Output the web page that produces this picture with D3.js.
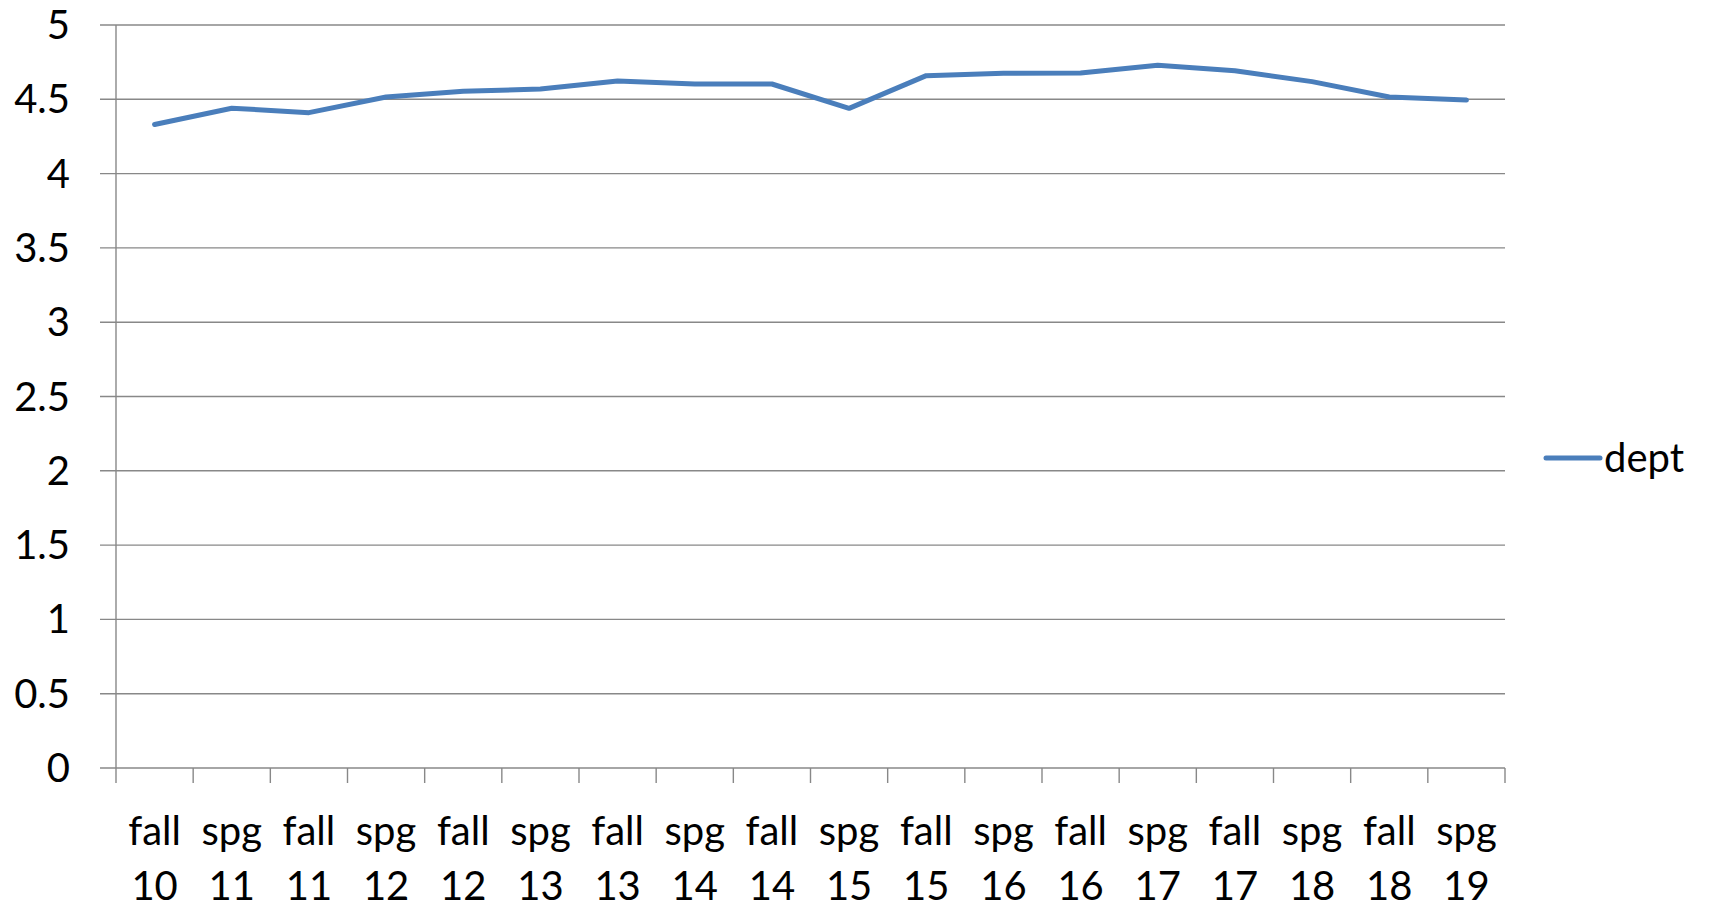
<!DOCTYPE html>
<html>
<head>
<meta charset="utf-8">
<script src="https://cdn.jsdelivr.net/npm/d3@7"></script>
<style>
  body { margin: 0; background: #fff; }
  text { font-family: Lato, "Open Sans", sans-serif; fill: #000; }
</style>
</head>
<body>
<svg id="chart" width="1715" height="908"></svg>
<script>
// categories, two-line labels
var terms = ["fall", "spg", "fall", "spg", "fall", "spg", "fall", "spg", "fall",
             "spg", "fall", "spg", "fall", "spg", "fall", "spg", "fall", "spg"];
var years = ["10", "11", "11", "12", "12", "13", "13", "14", "14",
             "15", "15", "16", "16", "17", "17", "18", "18", "19"];
var dept = [4.33, 4.44, 4.41, 4.515, 4.554, 4.569, 4.623, 4.603, 4.603,
            4.439, 4.659, 4.675, 4.677, 4.729, 4.692, 4.619, 4.515, 4.495];
var yTicks = [0, 0.5, 1, 1.5, 2, 2.5, 3, 3.5, 4, 4.5, 5];

var svg = d3.select("#chart");
// note: "top" is a reserved window prop, so use plot* names
var plotLeft = 116, plotRight = 1505, plotTop = 25, plotBottom = 768;
var gridColor = "#888888";

var cats = terms.map(function (d, i) { return i; });

var x = d3.scaleBand()
        .domain(cats)
        .range([plotLeft, plotRight]);

var y = d3.scaleLinear()
        .domain([0, 5])
        .range([plotBottom, plotTop]);

// horizontal gridlines (with left tick stubs)
svg.append("g")
        .selectAll("line")
        .data(yTicks)
        .enter()
        .append("line")
        .attr("x1", plotLeft - 16)
        .attr("x2", plotRight)
        .attr("y1", function (d) { return y(d); })
        .attr("y2", function (d) { return y(d); })
        .attr("stroke", gridColor)
        .attr("stroke-width", 1.4);

// y axis line
svg.append("line")
        .attr("x1", plotLeft).attr("x2", plotLeft)
        .attr("y1", plotTop).attr("y2", plotBottom + 15)
        .attr("stroke", gridColor)
        .attr("stroke-width", 1.4);

// y labels
svg.append("g")
        .selectAll("text")
        .data(yTicks)
        .enter()
        .append("text")
        .attr("x", 70)
        .attr("y", function (d) { return y(d) + 14; })
        .attr("text-anchor", "end")
        .attr("font-size", 40)
        .text(function (d) { return d; });

// x tick marks at band edges
var edges = cats.map(function (d) { return x(d); }).concat([plotRight]);
svg.append("g")
        .selectAll("line")
        .data(edges.slice(1))
        .enter()
        .append("line")
        .attr("x1", function (d) { return d; })
        .attr("x2", function (d) { return d; })
        .attr("y1", plotBottom)
        .attr("y2", plotBottom + 15)
        .attr("stroke", gridColor)
        .attr("stroke-width", 1.4);

// x labels
var xl = svg.append("g")
        .selectAll("text")
        .data(cats)
        .enter()
        .append("text")
        .attr("text-anchor", "middle")
        .attr("font-size", 40);
xl.append("tspan")
        .attr("x", function (d) { return x(d) + x.bandwidth() / 2; })
        .attr("y", 845)
        .text(function (d) { return terms[d]; });
xl.append("tspan")
        .attr("x", function (d) { return x(d) + x.bandwidth() / 2; })
        .attr("y", 900)
        .text(function (d) { return years[d]; });

// series line
var line = d3.line()
        .x(function (d, i) { return x(i) + x.bandwidth() / 2; })
        .y(function (d) { return y(d); });

svg.append("path")
        .datum(dept)
        .attr("d", line)
        .attr("fill", "none")
        .attr("stroke", "#4a7ebb")
        .attr("stroke-width", 5)
        .attr("stroke-linejoin", "round")
        .attr("stroke-linecap", "round");

// legend
svg.append("line")
        .attr("x1", 1546).attr("x2", 1600)
        .attr("y1", 458).attr("y2", 458)
        .attr("stroke", "#4a7ebb")
        .attr("stroke-width", 5)
        .attr("stroke-linecap", "round");
svg.append("text")
        .attr("x", 1604)
        .attr("y", 472)
        .attr("font-size", 40)
        .text("dept");
</script>
</body>
</html>
